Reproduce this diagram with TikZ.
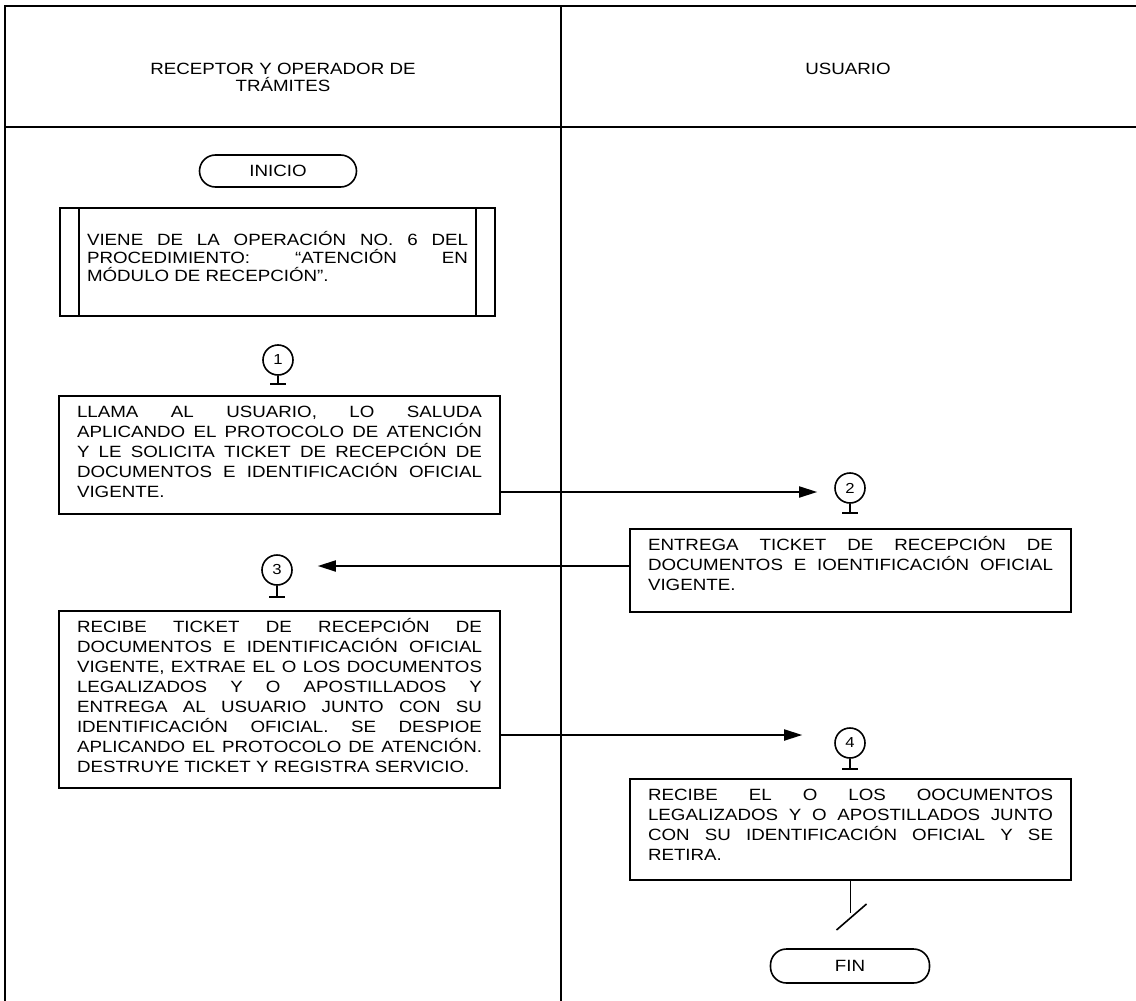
\documentclass[tikz,border=0pt]{standalone}
\usepackage{fontspec}
\setmainfont{Liberation Sans}[FakeStretch=1.15]
\usetikzlibrary{arrows.meta}
\tolerance=10000
\hbadness=10000

\tikzset{
	lane/.style={line width=1.6pt},
	terminal/.style={draw, line width=1.6pt, rounded corners=16pt, minimum width=157pt, minimum height=32pt},
	activity/.style={draw, line width=2pt, anchor=north west, inner xsep=18pt, inner ysep=0pt, text width=405pt, align=justify, text height=21pt},
	connector/.style={draw, circle, line width=1.6pt, minimum size=30pt, inner sep=0pt, font=\fontsize{14.5pt}{14.5pt}\selectfont},
	stem/.style={line width=1.6pt},
	flow/.style={line width=1.8pt, -{Triangle[length=18pt,width=11pt]}},
}

\begin{document}
\begin{tikzpicture}[x=1pt, y=-1pt, font=\fontsize{16.3pt}{20pt}\selectfont]
			\useasboundingbox (0,0) rectangle (1136,1001);
			% swimlanes
			\draw[lane] (5,1001) -- (5,6) -- (1136,6);
			\draw[lane] (5,127) -- (1136,127);
			\draw[lane] (561,6) -- (561,1001);
			\node[align=center, font=\fontsize{16.3pt}{17pt}\selectfont] (hreceptor) at (283,77) {RECEPTOR Y OPERADOR DE\\TRÁMITES};
			\node (husuario) at (848,69) {USUARIO};

			% start
			\node[terminal] (inicio) at (278,171) {INICIO};
			\node[draw, line width=2pt, anchor=north west, inner xsep=27pt, inner ysep=0pt, text width=381pt, align=justify,
				text height=37pt, text depth=71pt, font=\fontsize{16.3pt}{18pt}\selectfont] (viene) at (59,207)
			{
				VIENE DE LA OPERACIÓN NO. 6 DEL\linebreak
				PROCEDIMIENTO: “ATENCIÓN EN\linebreak
				MÓDULO DE RECEPCIÓN”.
			};
			\draw[line width=2pt] ([xshift=20pt]viene.north west) -- ([xshift=20pt]viene.south west);
			\draw[line width=2pt] ([xshift=-20pt]viene.north east) -- ([xshift=-20pt]viene.south east);

			% step 1
			\node[connector] (c1) at (278,360) {1};
			\draw[stem] (c1.south) -- ++(0,8) ++(-8,0) -- ++(16,0);
			\node[activity, text depth=97pt] (b1) at (58,395)
			{
				LLAMA AL USUARIO, LO SALUDA\linebreak
				APLICANDO EL PROTOCOLO DE ATENCIÓN\linebreak
				Y LE SOLICITA TICKET DE RECEPCIÓN DE\linebreak
				DOCUMENTOS E IDENTIFICACIÓN OFICIAL\linebreak
				VIGENTE.
			};

			% step 2
			\node[connector] (c2) at (850,488) {2};
			\draw[stem] (c2.south) -- ++(0,9) ++(-8,0) -- ++(16,0);
			\node[activity, text depth=62pt] (b2) at (629,528)
			{
				ENTREGA TICKET DE RECEPCIÓN DE\linebreak
				DOCUMENTOS E IOENTIFICACIÓN OFICIAL\linebreak
				VIGENTE.
			};
			\draw[flow] ([yshift=-4pt]b1.east |- c2.west) -- ([xshift=-17pt,yshift=-4pt]c2.west);

			% step 3
			\node[connector] (c3) at (277,570) {3};
			\draw[stem] (c3.south) -- ++(0,11) ++(-8,0) -- ++(16,0);
			\node[activity, text depth=156pt] (b3) at (58,610)
			{
				RECIBE TICKET DE RECEPCIÓN DE\linebreak
				DOCUMENTOS E IDENTIFICACIÓN OFICIAL\linebreak
				VIGENTE, EXTRAE EL O LOS DOCUMENTOS\linebreak
				LEGALIZADOS Y O APOSTILLADOS Y\linebreak
				ENTREGA AL USUARIO JUNTO CON SU\linebreak
				IDENTIFICACIÓN OFICIAL. SE DESPIOE\linebreak
				APLICANDO EL PROTOCOLO DE ATENCIÓN.\linebreak
				DESTRUYE TICKET Y REGISTRA SERVICIO.
			};
			\draw[flow] ([yshift=4pt]b2.west |- c3.east) -- ([xshift=25pt,yshift=4pt]c3.east);

			% step 4
			\node[connector] (c4) at (850,743) {4};
			\draw[stem] (c4.south) -- ++(0,10) ++(-8,0) -- ++(16,0);
			\node[activity, text depth=80pt] (b4) at (629,778)
			{
				RECIBE EL O LOS OOCUMENTOS\linebreak
				LEGALIZADOS Y O APOSTILLADOS JUNTO\linebreak
				CON SU IDENTIFICACIÓN OFICIAL Y SE\linebreak
				RETIRA.
			};
			\draw[flow] ([yshift=8pt]b3.east |- c4.west) -- ([xshift=-32pt,yshift=8pt]c4.west);

			% end
			\draw[stem] (b4.south) -- ++(0,32) coordinate (corte);
			\draw[stem] (corte) ++(-14,17) -- ++(30,-26);
			\node[terminal, minimum width=159pt, minimum height=34pt] (fin) at (850,966) {FIN};
		\end{tikzpicture}
\end{document}
